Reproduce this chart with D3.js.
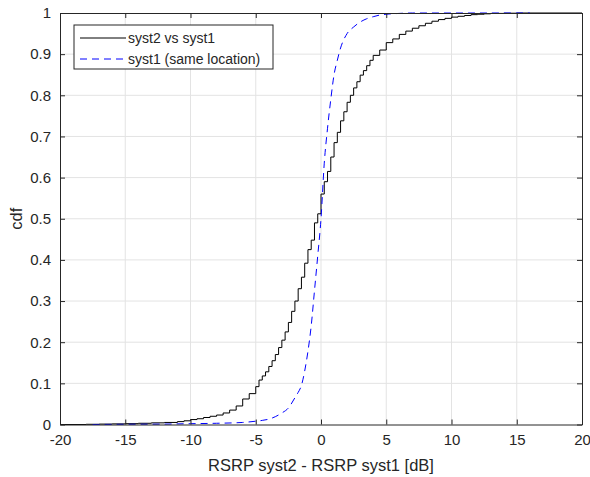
<!DOCTYPE html>
<html>
<head>
<meta charset="utf-8">
<script src="https://d3js.org/d3.v7.min.js"></script>
<style>
  body { margin: 0; background: #fff; }
  text { font-family: "Liberation Sans", Arial, sans-serif; fill: #262626; }
</style>
</head>
<body>
<svg id="chart"></svg>
<script>
var diffX = [-20, -18, -17, -16, -15, -14, -13, -12, -11, -10.5, -10, -9.5, -9, -8.5, -8, -7.5, -7, -6.5, -6, -5.5, -5,
  -4.75, -4.5, -4.25, -4, -3.75, -3.5, -3.25, -3, -2.75, -2.5, -2.25, -2, -1.75, -1.5, -1.25, -1, -0.75, -0.5, -0.25,
  0, 0.25, 0.5, 0.75, 1, 1.25, 1.5, 1.75, 2, 2.25, 2.5, 2.75, 3, 3.25, 3.5, 3.75, 4, 4.5, 5, 5.5, 6, 6.5, 7, 7.5,
  8, 8.5, 9, 9.5, 10, 10.5, 11, 11.5, 12, 12.5, 13, 14, 15, 20];
var diffCdf = [0, 0.0005, 0.001, 0.0015, 0.002, 0.003, 0.004, 0.005, 0.007, 0.009, 0.012, 0.014, 0.017, 0.020, 0.023, 0.028, 0.035, 0.045, 0.062, 0.075, 0.092,
  0.108, 0.118, 0.128, 0.141, 0.155, 0.170, 0.187, 0.205, 0.225, 0.248, 0.275, 0.300, 0.330, 0.358, 0.392, 0.425, 0.448, 0.490, 0.512,
  0.560, 0.590, 0.615, 0.650, 0.685, 0.710, 0.738, 0.760, 0.783, 0.800, 0.818, 0.833, 0.849, 0.860, 0.872, 0.885, 0.897, 0.910, 0.928, 0.937, 0.948, 0.956, 0.963, 0.969,
  0.975, 0.980, 0.984, 0.987, 0.990, 0.992, 0.994, 0.996, 0.997, 0.998, 0.999, 0.9995, 1, 1];

// cdf of syst1 at the same location
var sameX = [-17.5, -15, -12, -10, -8, -6, -5, -4.5, -4, -3.5, -3, -2.5, -2, -1.75, -1.5, -1.25, -1, -0.75, -0.5, -0.25,
  0, 0.25, 0.5, 0.75, 1, 1.25, 1.5, 2, 2.5, 3, 3.5, 4, 4.5, 5, 6, 7, 16];
var sameCdf = [0, 0.0005, 0.001, 0.002, 0.003, 0.005, 0.008, 0.010, 0.013, 0.019, 0.028, 0.040, 0.065, 0.078, 0.095, 0.130, 0.178, 0.240, 0.325, 0.410,
  0.500, 0.635, 0.720, 0.790, 0.850, 0.885, 0.915, 0.950, 0.966, 0.978, 0.986, 0.991, 0.995, 0.997, 0.999, 1, 1];

var xTicks = [-20, -15, -10, -5, 0, 5, 10, 15, 20];
var yTicks = [0, 0.1, 0.2, 0.3, 0.4, 0.5, 0.6, 0.7, 0.8, 0.9, 1];
var seriesNames = ["syst2 vs syst1", "syst1 (same location)"];

var W = 590, H = 477;
var margin = {top: 13, right: 8, bottom: 52.5, left: 60};
var width = W - margin.left - margin.right,
    height = H - margin.top - margin.bottom;

var svg = d3.select("#chart").attr("width", W).attr("height", H);
var g = svg.append("g").attr("transform", "translate(" + margin.left + "," + margin.top + ")");

var x = d3.scaleLinear().domain([-20, 20]).range([0, width]);
var y = d3.scaleLinear().domain([0, 1]).range([height, 0]);

// plain hyphen for negative numbers, like matlab
var fmt = function(d) { return String(d); };

// grid
g.append("g").selectAll("line").data(xTicks.slice(1, -1)).enter().append("line")
  .attr("x1", function(d) { return x(d); }).attr("x2", function(d) { return x(d); })
  .attr("y1", 0).attr("y2", height)
  .attr("stroke", "#e3e3e3").attr("stroke-width", 1);
g.append("g").selectAll("line").data(yTicks.slice(1, -1)).enter().append("line")
  .attr("y1", function(d) { return y(d); }).attr("y2", function(d) { return y(d); })
  .attr("x1", 0).attr("x2", width)
  .attr("stroke", "#e3e3e3").attr("stroke-width", 1);

// curves
var black = diffX.map(function(d, i) { return [d, diffCdf[i]]; });
var blue = sameX.map(function(d, i) { return [d, sameCdf[i]]; });

g.append("path").datum(black)
  .attr("fill", "none").attr("stroke", "#000").attr("stroke-width", 1)
  .attr("d", d3.line().x(function(d) { return x(d[0]); }).y(function(d) { return y(d[1]); }).curve(d3.curveStepAfter));
g.append("path").datum(blue)
  .attr("fill", "none").attr("stroke", "#0000ff").attr("stroke-width", 1)
  .attr("stroke-dasharray", "7,5")
  .attr("d", d3.line().x(function(d) { return x(d[0]); }).y(function(d) { return y(d[1]); }).curve(d3.curveMonotoneX));

// axes (box with inward ticks)
var tk = 5;
var bottomAxis = g.append("g").attr("transform", "translate(0," + height + ")")
  .call(d3.axisBottom(x).tickValues(xTicks).tickFormat(fmt).tickSizeInner(-tk).tickSizeOuter(0).tickPadding(10));
var leftAxis = g.append("g")
  .call(d3.axisLeft(y).tickValues(yTicks).tickFormat(fmt).tickSizeInner(-tk).tickSizeOuter(0).tickPadding(9));
var topAxis = g.append("g")
  .call(d3.axisTop(x).tickValues(xTicks).tickSizeInner(-tk).tickSizeOuter(0).tickFormat(""));
var rightAxis = g.append("g").attr("transform", "translate(" + width + ",0)")
  .call(d3.axisRight(y).tickValues(yTicks).tickSizeInner(-tk).tickSizeOuter(0).tickFormat(""));
[bottomAxis, leftAxis, topAxis, rightAxis].forEach(function(a) {
  a.selectAll("path").attr("stroke", "#262626");
  a.selectAll("line").attr("stroke", "#262626");
  a.selectAll("text").style("font-size", "15px").attr("fill", "#262626")
    .style("font-family", "'Liberation Sans', Arial, sans-serif");
});

// labels
svg.append("text").attr("x", margin.left + width / 2).attr("y", 471)
  .attr("text-anchor", "middle").style("font-size", "16.5px").text("RSRP syst2 - RSRP syst1 [dB]");
svg.append("text").attr("transform", "translate(22," + (margin.top + height / 2) + ") rotate(-90)")
  .attr("text-anchor", "middle").style("font-size", "16.5px").text("cdf");

// legend
var lg = g.append("g").attr("transform", "translate(14,12)");
lg.append("rect").attr("width", 199).attr("height", 44)
  .attr("fill", "#fff").attr("stroke", "#262626").attr("stroke-width", 1);
var styles = [{c: "#000", dash: null}, {c: "#0000ff", dash: "7,5"}];
seriesNames.forEach(function(name, i) {
  var yy = 13 + i * 21;
  lg.append("line").attr("x1", 6).attr("x2", 52).attr("y1", yy).attr("y2", yy)
    .attr("stroke", styles[i].c).attr("stroke-width", 1).attr("stroke-dasharray", styles[i].dash);
  lg.append("text").attr("x", 54).attr("y", yy + 5).style("font-size", "14px").text(name);
});
</script>
</body>
</html>
